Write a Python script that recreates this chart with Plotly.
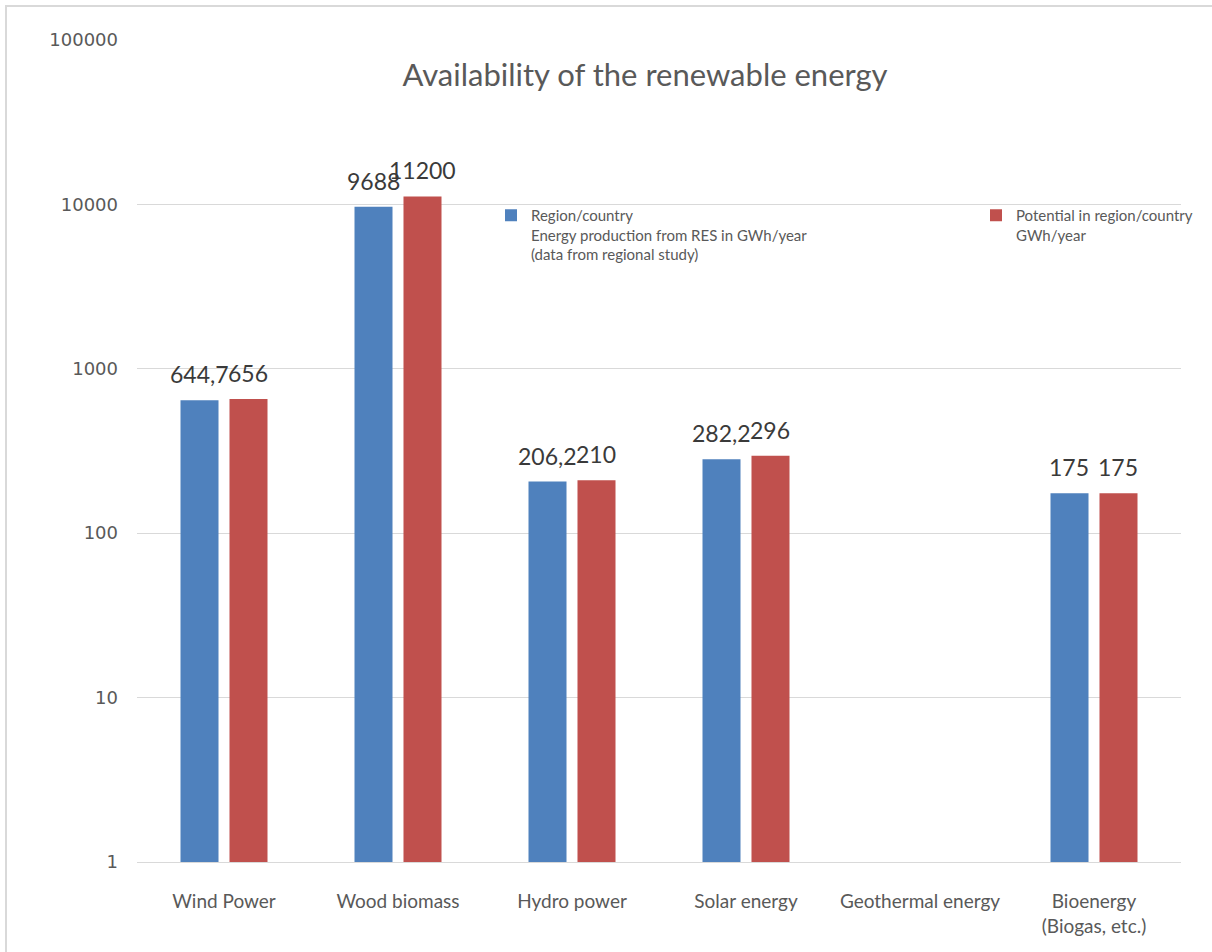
import math
import plotly.graph_objects as go

categories = ["Wind Power", "Wood biomass", "Hydro power", "Solar energy",
              "Geothermal energy", "Bioenergy<br>(Biogas, etc.)"]
region_values = [644.7, 9688, 206.2, 282.2, None, 175]
potential_values = [656, 11200, 210, 296, None, 175]
series_names = ["Region/country<br>Energy production from RES in GWh/year<br>(data from regional study)",
                "Potential in region/country<br>GWh/year"]
y_tick_vals = [1, 10, 100, 1000, 10000, 100000]
y_tick_text = ["1", "10", "100", "1000", "10000", "100000"]

BLUE = "#4F81BD"
RED = "#C0504D"
GRID = "#D9D9D9"
TXT = "#595959"

W, H = 1212, 952
L, R, T, B = 137, 31, 40, 90
PW, PH = W - L - R, H - T - B


def px_x(px):
    return (px - L) / PW


def px_y(py):
    return (H - B - py) / PH


def fmt(v):
    return f"{v:g}".replace(".", ",")


fig = go.Figure()
fig.add_trace(go.Bar(x=categories, y=region_values, name=series_names[0], showlegend=True,
                     marker=dict(color=BLUE, line=dict(width=0)), legend="legend"))
fig.add_trace(go.Bar(x=categories, y=potential_values, name=series_names[1], showlegend=True,
                     marker=dict(color=RED, line=dict(width=0)), legend="legend2"))

annotations = []
for vals, shift in ((region_values, -25), (potential_values, 24)):
    for c, v in zip(categories, vals):
        if v is None:
            continue
        annotations.append(dict(x=c, y=math.log10(v), xref="x", yref="y", text=fmt(v),
                                showarrow=False, xshift=shift, yshift=10, yanchor="bottom",
                                font=dict(family="Lato", size=23, color="#3a3a3a")))

fig.update_layout(
    width=W, height=H,
    margin=dict(l=L, r=R, t=T, b=B, autoexpand=False),
    paper_bgcolor="white", plot_bgcolor="white",
    showlegend=True,
    barmode="group", bargap=0.437, bargroupgap=0.224,
    title=dict(text="Availability of the renewable energy", x=px_x(645), xref="paper",
               xanchor="center", y=1 - 75 / H, yref="container", yanchor="middle",
               font=dict(family="Lato", size=31, color=TXT)),
    xaxis=dict(showgrid=False, showline=True, linecolor=GRID, linewidth=1, ticks="",
               tickfont=dict(family="Lato", size=19, color=TXT), ticklabelstandoff=22),
    yaxis=dict(type="log", range=[-0.001, 5.001], tickvals=y_tick_vals, ticktext=y_tick_text,
               showgrid=True, gridcolor=GRID, gridwidth=1, zeroline=False, ticks="",
               tickfont=dict(family="DejaVu Sans", size=18, color=TXT), ticklabelstandoff=18),
    legend=dict(x=px_x(491), y=px_y(199), xanchor="left", yanchor="top", valign="top",
                bgcolor="rgba(0,0,0,0)", font=dict(family="Lato", size=15, color=TXT),
                tracegroupgap=0, visible=True),
    legend2=dict(x=px_x(976), y=px_y(199), xanchor="left", yanchor="top", valign="top",
                 bgcolor="rgba(0,0,0,0)", font=dict(family="Lato", size=15, color=TXT),
                 visible=True),
    annotations=annotations,
    shapes=[dict(type="rect", xref="paper", yref="paper",
                 x0=px_x(6), x1=px_x(1400), y0=px_y(1200), y1=px_y(6),
                 line=dict(color=GRID, width=2), fillcolor="rgba(0,0,0,0)", layer="below")],
)

fig.write_html("out.html")
